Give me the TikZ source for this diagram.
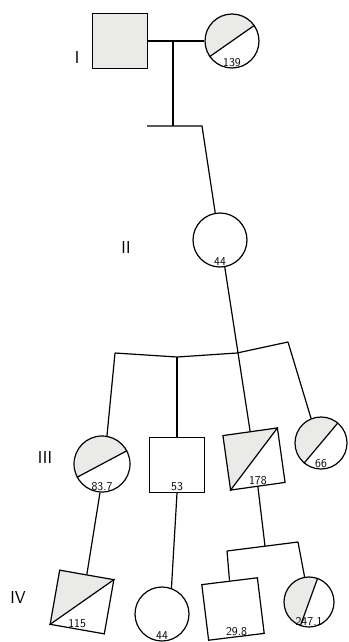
\documentclass[tikz,border=0pt]{standalone}
\usepackage{tikz}
\usetikzlibrary{positioning,calc,backgrounds}
\definecolor{stipple}{RGB}{234,234,232}

\begin{document}
\begin{tikzpicture}[x=1pt,y=-1pt,
    line width=1.2pt,
    male/.style={draw, minimum size=55pt, inner sep=0pt},
    female/.style={draw, circle, minimum size=54pt, inner sep=0pt},
    num/.style={font=\sffamily\large, inner sep=1.5pt},
    gen/.style={font=\sffamily\LARGE}]
    \useasboundingbox (0,0) rectangle (348,642);
    % generation labels
    \node[gen] (gI) at (77,58) {I};
    \node[gen] (gII) at (126,248) {II};
    \node[gen] (gIII) at (45,457) {III};
    \node[gen] (gIV) at (18,597) {IV};
    % generation I
    \node[male, fill=stipple] (I1) at (120,41) {};
    \node[female, label={[num,anchor=south]south:139}] (I2) at (232,41) {};
    % generation II
    \node[female, label={[num,anchor=south]south:44}] (II1) at (220,240) {};
    % generation III
    \node[female, minimum size=56pt, label={[num,anchor=south]south:83.7}] (III1) at (102,464) {};
    \node[male, label={[num,anchor=south]south:53}] (III2) at (177,465) {};
    \node[male, rotate=8, label={[num,anchor=south]south:178}] (III3) at (254,459) {};
    \node[female, minimum size=52pt, label={[num,anchor=south]south:66}] (III4) at (321,443) {};
    % generation IV
    \node[male, rotate=-10, label={[num,anchor=south]south:115}] (IV1) at (82,602) {};
    \node[female, label={[num,anchor=south]south:44}] (IV2) at (162,614) {};
    \node[male, minimum size=56pt, rotate=7, label={[num,anchor=south]south:29.8}] (IV3) at (233,609) {};
    \node[female, minimum size=50pt, label={[num,anchor=south]south:247.1}] (IV4) at (309,602) {};
    % half shading
    \begin{scope}[on background layer]
        \fill[stipple] (I2.35) arc[start angle=35, end angle=215, radius=27pt] -- cycle;
        \fill[stipple] (III1.28) arc[start angle=28, end angle=208, radius=28pt] -- cycle;
        \fill[stipple] (III3.south west) -- (III3.north west) -- (III3.north east) -- cycle;
        \fill[stipple] (III4.50) arc[start angle=50, end angle=230, radius=26pt] -- cycle;
        \fill[stipple] (IV1.south west) -- (IV1.north west) -- (IV1.north east) -- cycle;
        \fill[stipple] (IV4.70) arc[start angle=70, end angle=250, radius=25pt] -- cycle;
    \end{scope}
    \draw (I2.35) -- (I2.215);
    \draw (III1.28) -- (III1.208);
    \draw (III3.south west) -- (III3.north east);
    \draw (III4.50) -- (III4.230);
    \draw (IV1.south west) -- (IV1.north east);
    \draw (IV4.70) -- (IV4.250);
    % connectors
    \coordinate (mI) at (173,41);
    \coordinate (sI) at (173,126);
    \coordinate (sIl) at (147,126);
    \coordinate (sIr) at (202,126);
    \draw (I1.east) -- (I2.west);
    \draw (mI) -- (sI);
    \draw (sIl) -- (sIr) -- (II1.100);
    \coordinate (t1) at (115,353);
    \coordinate (t2) at (177,357);
    \coordinate (t3) at (237,353);
    \coordinate (t4) at (288,342);
    \draw (t1) -- (t2) -- (t3) -- (t4);
    \draw (II1.-80) -- (III3.north);
    \draw (t1) -- (III1.80);
    \draw (t2) -- (III2.north);
    \draw (t4) -- (III4.112);
    \coordinate (u0) at (265,546);
    \coordinate (u1) at (227,551);
    \coordinate (u2) at (298,542);
    \draw (III1.-94) -- (IV1.north);
    \draw (III2.south) -- (IV2.70);
    \draw (III3.south) -- (u0);
    \draw (u1) -- (u2);
    \draw (u1) -- (IV3.north);
    \draw (u2) -- (IV4.100);
\end{tikzpicture}
\end{document}
